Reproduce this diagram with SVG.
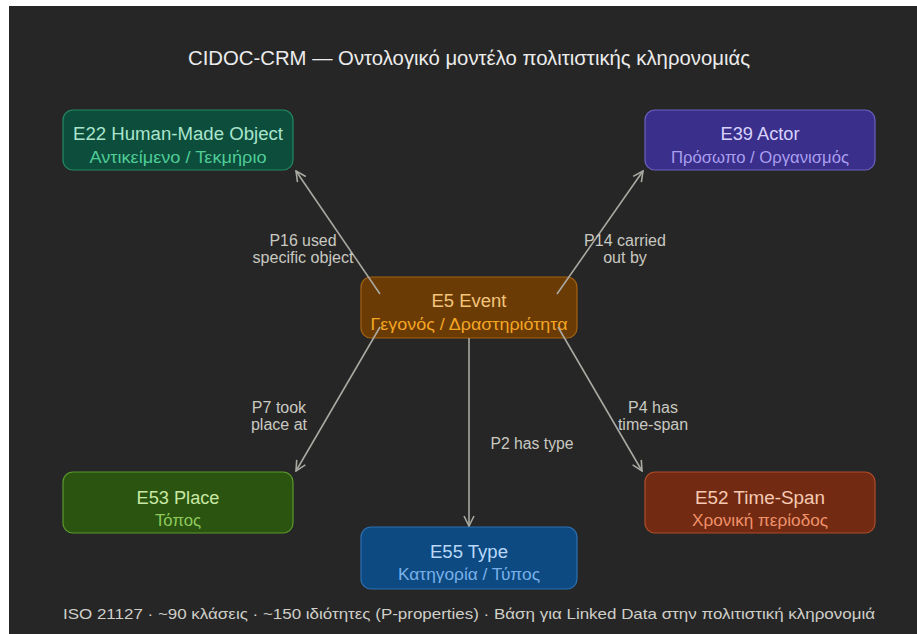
<svg xmlns="http://www.w3.org/2000/svg" width="917" height="634" viewBox="0 0 917 634">
<defs>
<style>
text{font-family:"Liberation Sans",Arial,Helvetica,sans-serif;text-anchor:middle}
.t{font-size:18px}
.s{font-size:16px}
.lbl{font-size:16px;fill:#c9c9c1}
.edge{stroke:#a9a9a2;stroke-width:1.6;fill:none;marker-end:url(#ah)}
</style>
<marker id="ah" viewBox="0 0 12 12" refX="11" refY="6" markerWidth="12" markerHeight="12" markerUnits="userSpaceOnUse" orient="auto">
<path d="M1,1 L11,6 L1,11" fill="none" stroke="#a9a9a2" stroke-width="1.6"/>
</marker>
</defs>
<rect x="0" y="0" width="917" height="634" fill="#ffffff"/>
<rect x="9" y="6" width="908" height="628" fill="#262626"/>
<text x="469" y="65" style="font-size:20px" fill="#ececec" textLength="562" lengthAdjust="spacingAndGlyphs">CIDOC-CRM — Οντολογικό μοντέλο πολιτιστικής κληρονομιάς</text>

<g id="e22">
<rect x="63" y="110" width="230" height="60" rx="10" fill="#0c4d3c" stroke="#238a63" stroke-width="1.2"/>
<text class="t" x="178" y="140" fill="#a9e5cc" textLength="210" lengthAdjust="spacingAndGlyphs">E22 Human-Made Object</text>
<text class="s" x="178" y="163" fill="#4fcc96" textLength="177" lengthAdjust="spacingAndGlyphs">Αντικείμενο / Τεκμήριο</text>
</g>
<g id="e39">
<rect x="645" y="110" width="230" height="60" rx="10" fill="#3a2f8a" stroke="#6c5fc4" stroke-width="1.2"/>
<text class="t" x="760" y="140" fill="#d8d2ff" textLength="79" lengthAdjust="spacingAndGlyphs">E39 Actor</text>
<text class="s" x="760" y="163" fill="#aa9ff0" textLength="178" lengthAdjust="spacingAndGlyphs">Πρόσωπο / Οργανισμός</text>
</g>
<g id="e5">
<rect x="361" y="277" width="216" height="61" rx="10" fill="#6a3b05" stroke="#a66310" stroke-width="1.2"/>
<text class="t" x="469" y="307" fill="#f4c57a" textLength="75" lengthAdjust="spacingAndGlyphs">E5 Event</text>
<text class="s" x="469" y="330" fill="#f5a623" textLength="197" lengthAdjust="spacingAndGlyphs">Γεγονός / Δραστηριότητα</text>
</g>
<g id="e53">
<rect x="63" y="472" width="230" height="61" rx="10" fill="#2a5410" stroke="#5a992b" stroke-width="1.2"/>
<text class="t" x="178" y="504" fill="#c9e8a3" textLength="83" lengthAdjust="spacingAndGlyphs">E53 Place</text>
<text class="s" x="178" y="526" fill="#8fcb5c" textLength="46" lengthAdjust="spacingAndGlyphs">Τόπος</text>
</g>
<g id="e55">
<rect x="361" y="527" width="216" height="62" rx="10" fill="#0d4a82" stroke="#2b71b2" stroke-width="1.2"/>
<text class="t" x="469" y="558" fill="#b9d8f8" textLength="78" lengthAdjust="spacingAndGlyphs">E55 Type</text>
<text class="s" x="469" y="580" fill="#79b1ea" textLength="142" lengthAdjust="spacingAndGlyphs">Κατηγορία / Τύπος</text>
</g>
<g id="e52">
<rect x="645" y="472" width="230" height="61" rx="10" fill="#722b12" stroke="#b04b2b" stroke-width="1.2"/>
<text class="t" x="760" y="504" fill="#f7c9b2" textLength="130" lengthAdjust="spacingAndGlyphs">E52 Time-Span</text>
<text class="s" x="760" y="526" fill="#f0916b" textLength="136" lengthAdjust="spacingAndGlyphs">Χρονική περίοδος</text>
</g>

<g id="connectors">
<line class="edge" x1="380" y1="294" x2="296" y2="171"/>
<line class="edge" x1="557" y1="294" x2="643" y2="171"/>
<line class="edge" x1="380" y1="327" x2="296" y2="471"/>
<line class="edge" x1="469" y1="338" x2="469" y2="526"/>
<line class="edge" x1="558" y1="327" x2="642" y2="471"/>
<text class="lbl" x="303" y="246" textLength="67" lengthAdjust="spacingAndGlyphs">P16 used</text>
<text class="lbl" x="303" y="263" textLength="101" lengthAdjust="spacingAndGlyphs">specific object</text>
<text class="lbl" x="625" y="246">P14 carried</text>
<text class="lbl" x="625" y="263">out by</text>
<text class="lbl" x="279" y="413">P7 took</text>
<text class="lbl" x="279" y="430">place at</text>
<text class="lbl" x="532" y="449" textLength="83" lengthAdjust="spacingAndGlyphs">P2 has type</text>
<text class="lbl" x="653" y="413">P4 has</text>
<text class="lbl" x="653" y="430">time-span</text>
</g>

<text x="469" y="619" style="font-size:15px" fill="#cfcfc8" textLength="812" lengthAdjust="spacingAndGlyphs">ISO 21127 · ~90 κλάσεις · ~150 ιδιότητες (P-properties) · Βάση για Linked Data στην πολιτιστική κληρονομιά</text>
</svg>
